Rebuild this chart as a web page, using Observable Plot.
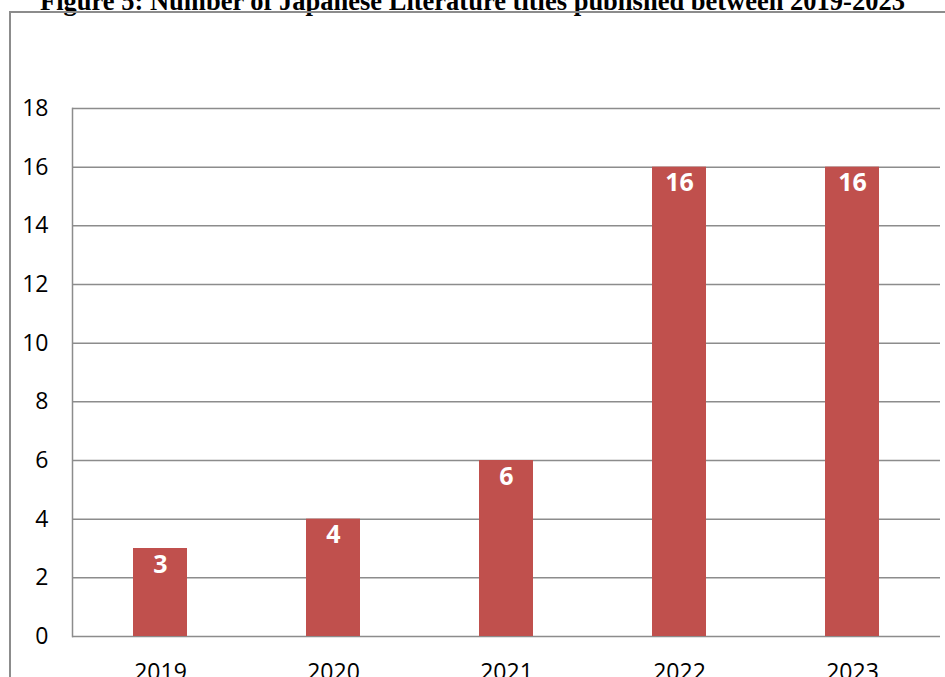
<!DOCTYPE html>
<html>
<head>
<meta charset="utf-8">
<script src="https://cdn.jsdelivr.net/npm/d3@7"></script>
<script src="https://cdn.jsdelivr.net/npm/@observablehq/plot@0.6"></script>
<style>
  html, body { margin: 0; padding: 0; background: #fff; overflow: hidden; }
  #wrap { position: relative; width: 945px; height: 677px; overflow: hidden; }
  #title { position: absolute; left: 0; width: 945px; top: -14px; text-align: center;
           font-family: "Liberation Serif", "Times New Roman", serif; font-weight: bold; font-size: 26.5px;
           line-height: 30px; color: #000; white-space: nowrap; }
  #border { position: absolute; left: 9px; top: 11px; width: 1000px; height: 1000px;
            border-left: 2.5px solid #8c8c8c; border-top: 2.5px solid #8c8c8c; box-sizing: border-box; }
  #chart { position: absolute; left: 0; top: 0; }
</style>
</head>
<body>
<div id="wrap">
  <div id="title">Figure 5: Number of Japanese Literature titles published between 2019-2023</div>
  <div id="border"></div>
  <div id="chart"></div>
</div>
<script>
const years = ["2019", "2020", "2021", "2022", "2023"];
const titles = [3, 4, 6, 16, 16];
const yTicks = [0, 2, 4, 6, 8, 10, 12, 14, 16, 18];

const data = years.map((y, i) => ({year: y, count: titles[i]}));

const chart = Plot.plot({
  width: 945,
  height: 677,
  marginLeft: 72,
  marginRight: 5,
  marginTop: 108,
  marginBottom: 41,
  style: {fontFamily: "'Open Sans', sans-serif", fontSize: "23px", color: "#000", background: "transparent"},
  x: {domain: years, paddingInner: 0.69, paddingOuter: 0.345, label: null},
  y: {domain: [0, 18], label: null},
  marks: [
    Plot.gridY(yTicks, {stroke: "#8c8c8c", strokeOpacity: 1, strokeWidth: 1.5}),
    Plot.frame({anchor: "left", stroke: "#8c8c8c", strokeWidth: 1.5}),
    Plot.barY(data, {x: "year", y: "count", fill: "#C0504D"}),
    Plot.text(data, {x: "year", y: "count", text: d => String(d.count), fill: "white",
      fontWeight: "bold", fontSize: 25, dy: 16, lineAnchor: "middle"}),
    Plot.axisY(yTicks, {tickSize: 0, tickPadding: 24, fontSize: 23, fill: "#000"}),
    Plot.axisX({tickSize: 0, tickPadding: 27, fontSize: 23, fill: "#000"})
  ]
});
document.getElementById("chart").appendChild(chart);
</script>
</body>
</html>
